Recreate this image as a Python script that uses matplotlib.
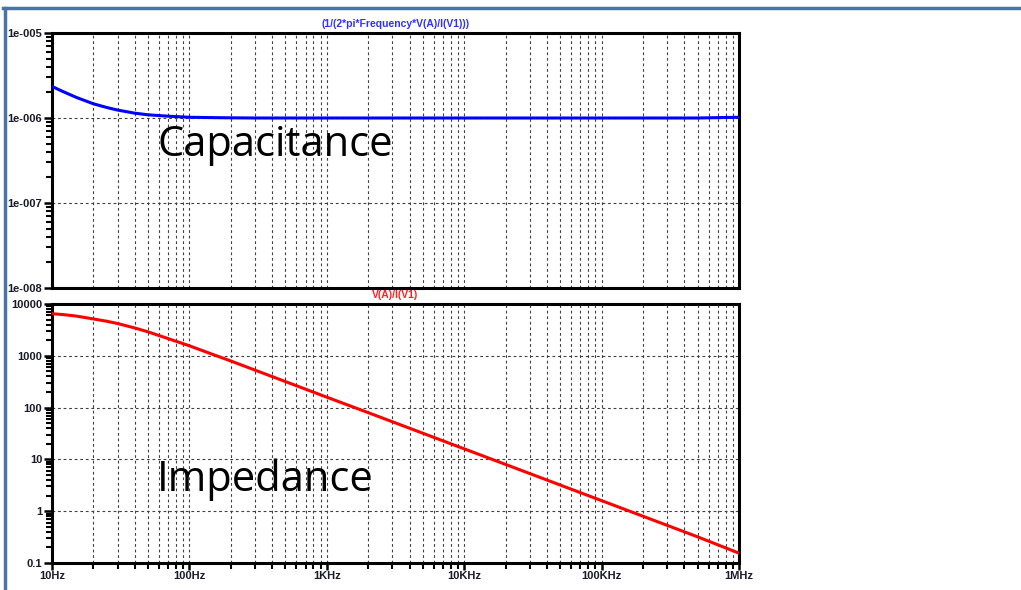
import matplotlib.pyplot as plt
import matplotlib.ticker as mticker
from matplotlib.lines import Line2D

# frequency points (Hz)
freq = [10, 12, 15, 20, 25, 30, 40, 50, 70, 100, 150, 200, 300, 500,
        1e3, 2e3, 5e3, 1e4, 2e4, 5e4, 1e5, 2e5, 5e5, 1e6]

# capacitance (F)
cap = [2.35e-6, 2.05e-6, 1.75e-6, 1.47e-6, 1.33e-6, 1.24e-6, 1.14e-6, 1.09e-6,
       1.05e-6, 1.02e-6, 1.01e-6, 1.005e-6, 1.0e-6, 1.0e-6, 1.0e-6, 1.0e-6,
       1.0e-6, 1.0e-6, 1.0e-6, 1.0e-6, 1.0e-6, 1.0e-6, 1.0e-6, 1.02e-6]

# impedance magnitude (ohm)
imp = [6500, 6250, 5850, 5150, 4650, 4200, 3450, 2900, 2150, 1560, 1050, 795,
       530, 318, 159, 80, 32, 16, 8, 3.2, 1.6, 0.8, 0.32, 0.155]

x_ticks = [10, 100, 1e3, 1e4, 1e5, 1e6]
x_labels = ['10Hz', '100Hz', '1KHz', '10KHz', '100KHz', '1MHz']
cap_ticks = [1e-5, 1e-6, 1e-7, 1e-8]
cap_labels = ['1e-005', '1e-006', '1e-007', '1e-008']
imp_ticks = [1e4, 1e3, 100, 10, 1, 0.1]
imp_labels = ['10000', '1000', '100', '10', '1', '0.1']

plt.rcParams['font.family'] = ['Liberation Sans', 'DejaVu Sans']

fig = plt.figure(figsize=(10.21, 5.90), dpi=100)
W, H = 1021, 590

def px_axes(x0, y0, x1, y1):
    return fig.add_axes([x0 / W, 1 - y1 / H, (x1 - x0) / W, (y1 - y0) / H])

ax1 = px_axes(52, 33, 739, 288)
ax2 = px_axes(52, 304, 739, 563)

grid_kw = dict(color='#404040', linestyle=(0, (2.5, 2.5)), linewidth=0.8)

def style(ax, ticks, labels, ylim, show_x):
    ax.set_xscale('log')
    ax.set_yscale('log')
    ax.set_xlim(10, 1e6)
    ax.set_ylim(*ylim)
    for s in ax.spines.values():
        s.set_linewidth(2.2)
    ax.set_yticks(ticks)
    ax.set_yticklabels(labels, fontsize=8, fontweight='bold', color='#1a1a2a')
    ax.yaxis.set_minor_locator(mticker.LogLocator(base=10, subs=range(2, 10), numticks=20))
    ax.yaxis.set_minor_formatter(mticker.NullFormatter())
    ax.tick_params(axis='y', which='major', length=6, width=1.8, pad=1)
    ax.tick_params(axis='y', which='minor', length=4, width=1.5)
    ax.set_xticks(x_ticks)
    ax.xaxis.set_minor_locator(mticker.LogLocator(base=10, subs=range(2, 10), numticks=20))
    ax.xaxis.set_minor_formatter(mticker.NullFormatter())
    if show_x:
        ax.set_xticklabels(x_labels, fontsize=8, fontweight='bold', color='#1a1a2a')
        ax.tick_params(axis='x', which='major', length=5, width=1.8, pad=1)
        ax.tick_params(axis='x', which='minor', length=4, width=1.5)
    else:
        ax.set_xticklabels([])
        ax.tick_params(axis='x', which='both', length=0)
    ax.grid(True, which='both', axis='x', **grid_kw)
    ax.grid(True, which='major', axis='y', **grid_kw)
    ax.set_axisbelow(True)

style(ax1, cap_ticks, cap_labels, (1e-8, 1e-5), False)
style(ax2, imp_ticks, imp_labels, (0.1, 1e4), True)

ax1.plot(freq, cap, color='#0000ff', linewidth=2.2, zorder=3)
ax2.plot(freq, imp, color='#ff0000', linewidth=2.2, zorder=3)

ax1.set_title('(1/(2*pi*Frequency*V(A)/I(V1)))', fontsize=7.5, fontweight='bold',
              color='#3030ff', pad=4)
ax2.set_title('V(A)/I(V1)', fontsize=7.5, fontweight='bold', color='#ff2020', pad=4)

fig.text(157 / W, 1 - 145 / H, 'Capacitance', fontsize=30, family='Open Sans',
         va='center', ha='left', color='black')
fig.text(157 / W, 1 - 480 / H, 'Impedance', fontsize=30, family='Open Sans',
         va='center', ha='left', color='black')

# slide frame
frame_c = '#4a74a2'
fig.add_artist(Line2D([3 / W, 1], [1 - 8 / H, 1 - 8 / H], color=frame_c, linewidth=2.5,
                      transform=fig.transFigure))
fig.add_artist(Line2D([4.5 / W, 4.5 / W], [0, 1 - 8 / H], color=frame_c, linewidth=2.5,
                      transform=fig.transFigure))

fig.savefig('out.png', dpi=100)
